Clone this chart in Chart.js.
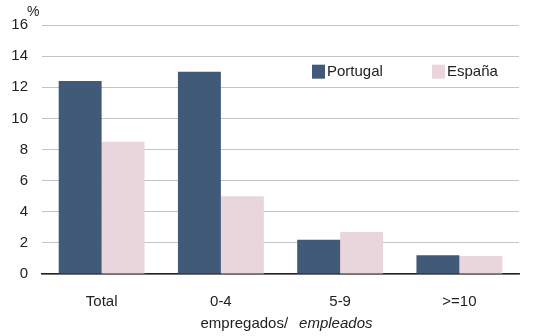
<!DOCTYPE html>
<html>
<head>
<meta charset="utf-8">
<script src="https://cdn.jsdelivr.net/npm/chart.js@4/dist/chart.umd.min.js"></script>
<style>
  html, body { margin: 0; padding: 0; background: #fff; }
  #wrap { width: 547px; height: 336px; position: relative; }
</style>
</head>
<body>
<div id="wrap"><canvas id="myBarChart"></canvas></div>
<script>
const categories = ['Total', '0-4', '5-9', '>=10'];
const portugal = [12.4, 13.0, 2.2, 1.2];
const espana = [8.5, 5.0, 2.7, 1.15];
const yTicks = [0, 2, 4, 6, 8, 10, 12, 14, 16];

const FONT = 'Liberation Sans, Arial, sans-serif';

// legend inside the plot + the "%" label + the two-style axis title
const extras = {
  id: 'extras',
  afterDraw(chart) {
    const ctx = chart.ctx;
    const area = chart.chartArea;
    const y = chart.scales.y;
    ctx.save();
    ctx.fillStyle = '#222';
    ctx.textBaseline = 'middle';
    ctx.textAlign = 'left';

    // %
    ctx.font = '14px ' + FONT;
    ctx.fillText('%', 27, 12);

    // legend
    ctx.font = '15px ' + FONT;
    const items = chart.data.datasets;
    const lx = [312, 432];
    const ly = y.getPixelForValue(13);
    items.forEach((ds, i) => {
      ctx.fillStyle = ds.backgroundColor;
      ctx.fillRect(lx[i], ly - 7, 13, 14);
      ctx.fillStyle = '#222';
      ctx.fillText(ds.label, lx[i] + 15, ly);
    });

    // x axis title: empregados/ empleados
    const cx = (area.left + area.right) / 2 + 6;
    const ty = 324;
    const a = 'empregados/';
    const b = 'empleados';
    const gap = 11;
    ctx.font = '15px ' + FONT;
    const wa = ctx.measureText(a).width;
    ctx.font = 'italic 15px ' + FONT;
    const wb = ctx.measureText(b).width;
    const x0 = cx - (wa + gap + wb) / 2;
    ctx.font = '15px ' + FONT;
    ctx.fillText(a, x0, ty);
    ctx.font = 'italic 15px ' + FONT;
    ctx.fillText(b, x0 + wa + gap, ty);
    ctx.restore();
  }
};

const ctx = document.getElementById('myBarChart').getContext('2d');
new Chart(ctx, {
  type: 'bar',
  data: {
    labels: categories,
    datasets: [
      {
        label: 'Portugal',
        data: portugal,
        backgroundColor: '#415a78',
        categoryPercentage: 0.72,
        barPercentage: 1.0
      },
      {
        label: 'España',
        data: espana,
        backgroundColor: '#e9d5dc',
        categoryPercentage: 0.72,
        barPercentage: 1.0
      }
    ]
  },
  options: {
    responsive: true,
    maintainAspectRatio: false,
    animation: false,
    layout: { padding: { top: 25, right: 28, bottom: 14, left: 0 } },
    plugins: {
      legend: { display: false },
      tooltip: { enabled: false }
    },
    scales: {
      x: {
        grid: { display: false },
        border: { display: true, color: '#222', width: 1.5 },
        ticks: { color: '#222', font: { family: FONT, size: 15 }, padding: 11 }
      },
      y: {
        min: 0,
        max: 16,
        afterBuildTicks: (scale) => { scale.ticks = yTicks.map(v => ({ value: v })); },
        afterFit: (scale) => { scale.width = 42; },
        grid: { color: '#c4c4c4', lineWidth: 1, drawTicks: false },
        border: { display: false },
        ticks: { color: '#222', font: { family: FONT, size: 15 }, padding: 14 }
      }
    }
  },
  plugins: [extras]
});
</script>
</body>
</html>
